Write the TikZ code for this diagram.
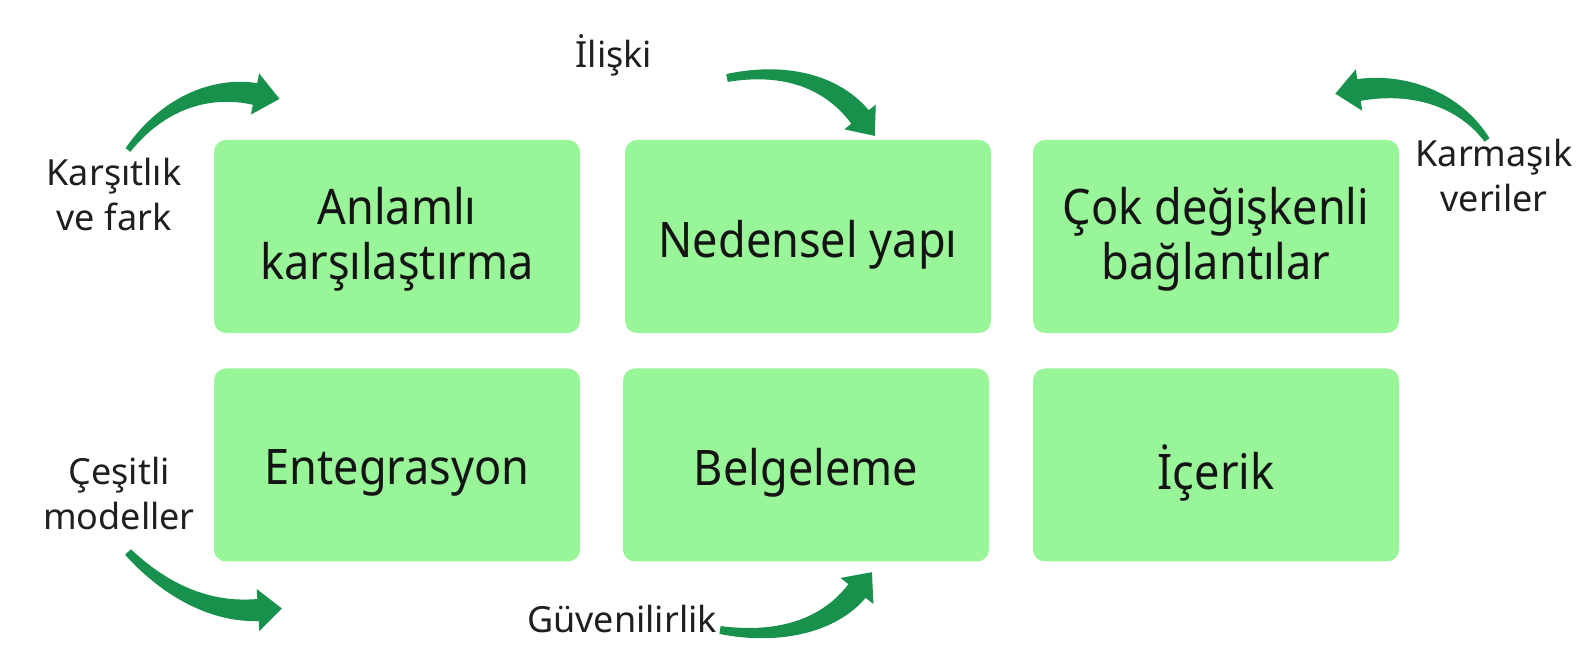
\documentclass[tikz,border=0pt]{standalone}
\usepackage{fontspec}
\setmainfont{Noto Sans}
\newfontfamily\boxfont[FakeStretch=0.92]{Noto Sans}
\usetikzlibrary{calc}
\definecolor{boxfill}{RGB}{152,245,152}
\definecolor{arrowfill}{RGB}{24,145,76}
\newcommand\tarrow[8]{% tail, c1, c2, neck, half-width, head length, head half-width, tail half-width
\fill[arrowfill] ($(#1)!#8!90:(#2)$)
  .. controls ($(#2)!{0.6*#5}!90:(#3)$) and ($(#3)!{0.9*#5}!90:(#4)$) .. ($(#4)!#5!-90:(#3)$)
  -- ($(#4)!#7!-90:(#3)$) -- ($(#4)!-#6!(#3)$) -- ($(#4)!#7!90:(#3)$) -- ($(#4)!#5!90:(#3)$)
  .. controls ($(#3)!{0.9*#5}!-90:(#4)$) and ($(#2)!{0.6*#5}!-90:(#3)$) .. ($(#1)!#8!-90:(#2)$) -- cycle;}
\begin{document}
\begin{tikzpicture}[x=0.5pt,y=-0.5pt,
 box/.style={fill=boxfill, rounded corners=6pt, minimum width=183pt, minimum height=96.5pt},
 boxtext/.style={align=center, font=\boxfont\fontsize{24.5}{27.5}\selectfont, text=black!92},
 lbl/.style={align=center, font=\fontsize{18}{22.5}\selectfont, text=black!88}]
\useasboundingbox[fill=white] (0,0) rectangle (1584,672);
\node[box] (b1) at (397,236.5) {};
\node[box] (b2) at (808,236.5) {};
\node[box] (b3) at (1216,236.5) {};
\node[box] (b4) at (397,465) {};
\node[box] (b5) at (806,465) {};
\node[box] (b6) at (1216,465) {};
\node[boxtext,yshift=-1.5pt] (t1) at (b1) {Anlamlı\\karşılaştırma};
\node[boxtext,yshift=-4pt] (t2) at (b2) {Nedensel yapı};
\node[boxtext,yshift=-1.5pt] (t3) at (b3) {Çok değişkenli\\bağlantılar};
\node[boxtext,yshift=-4pt] (t4) at (b4) {Entegrasyon};
\node[boxtext,yshift=-4pt] (t5) at (b5) {Belgeleme};
\node[boxtext,yshift=-4pt] (t6) at (b6) {İçerik};
\node[lbl] (l1) at (114,195) {Karşıtlık\\ve fark};
\node[lbl] (l2) at (614,55) {İlişki};
\node[lbl] (l3) at (1494,176) {Karmaşık\\veriler};
\node[lbl] (l4) at (119,494) {Çeşitli\\modeller};
\node[lbl] (l5) at (622,619.5) {Güvenilirlik};
\coordinate (a1t) at (128,150); \coordinate (a1a) at (165,100); \coordinate (a1b) at (215,86); \coordinate (a1n) at (255,94);
\coordinate (a2t) at (727,78); \coordinate (a2a) at (790,66); \coordinate (a2b) at (835,85); \coordinate (a2n) at (860,117);
\coordinate (a3t) at (1487,140); \coordinate (a3a) at (1460,100); \coordinate (a3b) at (1410,82); \coordinate (a3n) at (1359,90);
\coordinate (a4t) at (128,552); \coordinate (a4a) at (165,590); \coordinate (a4b) at (210,613); \coordinate (a4n) at (258,610);
\coordinate (a5t) at (720,630); \coordinate (a5a) at (780,640); \coordinate (a5b) at (830,625); \coordinate (a5n) at (857,591);
\tarrow{a1t}{a1a}{a1b}{a1n}{5.5pt}{12.5pt}{10.5pt}{1.5pt}
\tarrow{a2t}{a2a}{a2b}{a2n}{5.5pt}{12pt}{10pt}{2pt}
\tarrow{a3t}{a3a}{a3b}{a3n}{5.5pt}{12pt}{10.5pt}{1.5pt}
\tarrow{a4t}{a4a}{a4b}{a4n}{5.5pt}{12pt}{10.5pt}{2pt}
\tarrow{a5t}{a5a}{a5b}{a5n}{5.5pt}{12pt}{10.5pt}{2pt}
\end{tikzpicture}
\end{document}
